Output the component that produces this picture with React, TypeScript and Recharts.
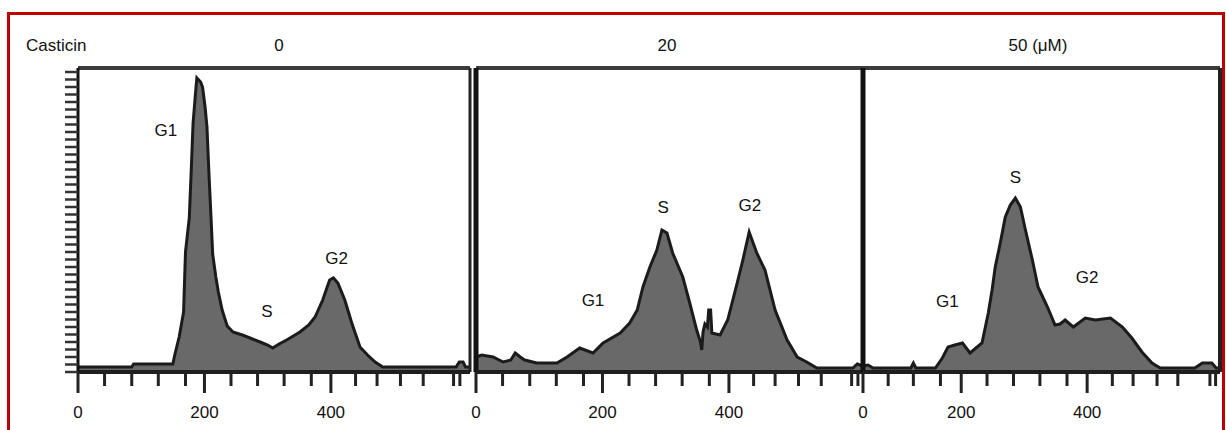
import React from "react";
import { AreaChart, Area, XAxis, YAxis, ReferenceLine, ReferenceDot } from "recharts";

// DNA content histograms, one per casticin dose
const doseLabels = ["0", "20", "50 (μM)"];

const ctrlChannel = [0, 85, 88, 150, 153, 160, 167, 170, 176, 179, 182, 186, 188, 194, 197, 201, 204, 207, 210, 213, 218, 222, 228, 236, 245, 260, 272, 288, 300, 308, 318, 330, 351, 365, 375, 387, 398, 404, 411, 422, 433, 446, 458, 470, 482, 598, 603, 609, 613, 620];
const ctrlCount = [5, 5, 8, 8, 17, 35, 60, 120, 154, 200, 249, 280, 294, 290, 285, 265, 245, 200, 160, 118, 95, 80, 62, 46, 40, 37, 34, 30, 27, 24, 28, 32, 40, 47, 55, 72, 92, 94, 89, 72, 49, 25, 17, 10, 5, 5, 10, 10, 5, 5];

const mid20Channel = [0, 9, 27, 43, 55, 62, 70, 77, 96, 128, 144, 164, 185, 201, 228, 243, 255, 264, 275, 286, 294, 302, 311, 327, 338, 349, 355, 357, 359, 362, 366, 368, 371, 373, 386, 398, 413, 422, 432, 444, 457, 473, 492, 508, 523, 539, 596, 603, 612];
const mid20Count = [15, 17, 15, 10, 12, 19, 15, 12, 9, 9, 15, 24, 19, 29, 39, 49, 62, 85, 105, 122, 142, 139, 119, 95, 69, 42, 30, 22, 40, 48, 45, 62, 62, 39, 37, 52, 89, 112, 140, 119, 102, 62, 32, 15, 10, 4, 4, 8, 6];

const high50Channel = [44, 52, 60, 120, 124, 128, 159, 170, 179, 190, 202, 214, 233, 243, 249, 254, 262, 270, 278, 286, 294, 302, 313, 322, 337, 349, 357, 365, 378, 397, 413, 437, 456, 471, 487, 503, 516, 571, 583, 598, 605, 611];
const high50Count = [6, 7, 4, 4, 9, 4, 4, 14, 25, 27, 29, 19, 29, 59, 82, 105, 129, 155, 167, 174, 165, 142, 112, 85, 65, 47, 48, 52, 45, 54, 52, 54, 45, 34, 20, 9, 4, 4, 9, 9, 4, 4];

const minorTicks = [0, 42, 85, 127, 170, 200, 242, 284, 326, 369, 400, 439, 473, 510, 546, 594, 604];
const minorTicks50 = [44, 84, 124, 167, 200, 241, 283, 325, 368, 400, 440, 473, 511, 544, 595, 604];
const tickLabels = ["0", "200", "400"];

const phaseNames = ["G1", "S", "G2"];
const ctrlPhasePos = [[139, 242], [299, 61], [409, 114]];
const mid20PhasePos = [[185, 72], [296, 165], [433, 167]];
const high50PhasePos = [[178, 71], [286, 195], [400, 95]];

const countTicks = Array.from({ length: 41 }, (_, i) => i * 7.5);

const toRows = (ch: number[], ct: number[]) => ch.map((c, i) => ({ channel: c, count: ct[i] }));

const SIDE = 12;

const panels = [
  { rows: toRows(ctrlChannel, ctrlCount), domain: [0, 620], ticks: minorTicks, majors: [0, 200, 400], phases: ctrlPhasePos, plotX: 78, plotW: 392, comb: true },
  { rows: toRows(mid20Channel, mid20Count), domain: [0, 612], ticks: minorTicks, majors: [0, 200, 400], phases: mid20PhasePos, plotX: 476, plotW: 387, comb: false },
  { rows: toRows(high50Channel, high50Count), domain: [44, 611], ticks: minorTicks50, majors: [44, 200, 400], phases: high50PhasePos, plotX: 863, plotW: 357, comb: false, rightEdge: true },
];

function ChannelTick(props: any) {
  const { x, y, payload, majors } = props;
  const idx = majors.indexOf(payload.value);
  return (
    <g>
      <line x1={x} x2={x} y1={y} y2={y + (idx >= 0 ? 21 : 14)} stroke="#222" strokeWidth={3} />
      {idx >= 0 && (
        <text x={x} y={y + 46} textAnchor="middle" fontSize={17} fill="#111">
          {tickLabels[idx]}
        </text>
      )}
    </g>
  );
}

function Panel({ p }: { p: any }) {
  const yW = p.comb ? 15 : 0;
  const [x0, x1] = p.domain;
  return (
    <div style={{ position: "absolute", left: p.plotX - yW - SIDE, top: 64 }}>
      <AreaChart
        width={SIDE + yW + p.plotW + SIDE}
        height={4 + 304 + 50}
        data={p.rows}
        margin={{ top: 4, right: SIDE, left: SIDE, bottom: 0 }}
      >
        <XAxis
          dataKey="channel"
          type="number"
          domain={p.domain}
          ticks={p.ticks}
          interval={0}
          height={50}
          tickSize={0}
          tickMargin={0}
          axisLine={{ stroke: "#1e1e1e", strokeWidth: 4 }}
          tickLine={false}
          tick={(tp: any) => <ChannelTick {...tp} majors={p.majors} />}
        />
        {p.comb ? (
          <YAxis
            domain={[0, 304]}
            ticks={countTicks}
            width={15}
            tickSize={13}
            interval={0}
            axisLine={{ stroke: "#111", strokeWidth: 3 }}
            tickLine={{ stroke: "#333", strokeWidth: 2.5 }}
            tickFormatter={() => ""}
          />
        ) : (
          <YAxis domain={[0, 304]} hide />
        )}
        <Area
          type="linear"
          dataKey="count"
          stroke="#1b1b1b"
          strokeWidth={3}
          fill="#696969"
          fillOpacity={1}
          isAnimationActive={false}
          dot={false}
          activeDot={false}
        />
        <ReferenceLine y={304} stroke="#3c3c3c" strokeWidth={4} />
        {!p.comb && <ReferenceLine x={x0} stroke="#111" strokeWidth={5} />}
        {p.comb && <ReferenceLine x={x1} stroke="#222" strokeWidth={3} />}
        {p.rightEdge && <ReferenceLine x={x1} stroke="#222" strokeWidth={4} />}
        {p.phases.map((pos: number[], i: number) => (
          <ReferenceDot
            key={phaseNames[i]}
            x={pos[0]}
            y={pos[1]}
            r={0}
            stroke="none"
            fill="none"
            label={{ value: phaseNames[i], position: "center", fontSize: 17, fill: "#111" }}
          />
        ))}
      </AreaChart>
    </div>
  );
}

export default function App() {
  return (
    <div
      style={{
        position: "fixed",
        left: 0,
        top: 0,
        width: 1226,
        height: 430,
        background: "#fff",
        overflow: "hidden",
        fontFamily: "'Liberation Sans', Arial, sans-serif",
      }}
    >
      {panels.map((p, i) => (
        <Panel key={i} p={p} />
      ))}
      <svg width={1226} height={430} style={{ position: "absolute", left: 0, top: 0, pointerEvents: "none" }}>
        <text x={26} y={51} fontSize={17} fill="#111">Casticin</text>
        <text x={279} y={51} fontSize={17} fill="#111" textAnchor="middle">{doseLabels[0]}</text>
        <text x={667} y={51} fontSize={17} fill="#111" textAnchor="middle">{doseLabels[1]}</text>
        <text x={1038} y={51} fontSize={17} fill="#111" textAnchor="middle">{doseLabels[2]}</text>
      </svg>
      <div
        style={{
          position: "absolute",
          left: 7,
          top: 12,
          width: 1212,
          height: 430,
          borderLeft: "3px solid #c00000",
          borderTop: "3px solid #c00000",
          borderRight: "3px solid #c00000",
        }}
      />
    </div>
  );
}
